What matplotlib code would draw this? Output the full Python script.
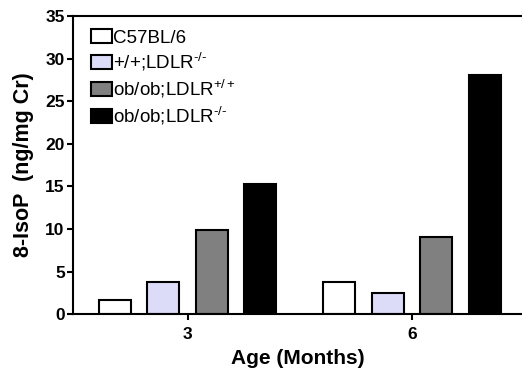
import numpy as np
import matplotlib
matplotlib.use("Agg")
import matplotlib.pyplot as plt

plt.rcParams['font.family'] = ['Liberation Sans', 'DejaVu Sans']
plt.rcParams['mathtext.fontset'] = 'custom'
plt.rcParams['mathtext.rm'] = 'Liberation Sans'
plt.rcParams['mathtext.it'] = 'Liberation Sans'

# данные
ages = ["3", "6"]
groups = ["C57BL/6", "+/+;LDLR$^{\u2010/\u2010}$", "ob/ob;LDLR$^{+/+}$",
          "ob/ob;LDLR$^{\u2010/\u2010}$"]
isop_3m = [1.65, 3.8, 9.9, 15.3]
isop_6m = [3.8, 2.5, 9.05, 28.1]
colors = ["white", "#dcdcf8", "#808080", "black"]

values = np.array([isop_3m, isop_6m])

fig = plt.figure(figsize=(5.22, 3.74), dpi=100)
ax = fig.add_axes([0.14, 0.16, 0.86, 0.797])

x = np.arange(len(ages))
width = 0.143
pitch = 0.216
for k in range(len(groups)):
    ax.bar(x + (k - 1.5) * pitch, values[:, k], width, color=colors[k],
           edgecolor="black", linewidth=1.5, label=groups[k])

ax.set_xlim(-0.51, 1.49)
ax.set_ylim(0, 35)
ax.set_yticks(np.arange(0, 36, 5))
ax.set_xticks(x, labels=ages)

for s in ["left", "bottom", "top"]:
    ax.spines[s].set_linewidth(1.5)
ax.spines["right"].set_visible(False)
ax.tick_params(axis="both", direction="out", length=4, width=1.5,
               labelsize=12.5, pad=2)
ax.tick_params(axis="x", pad=5)
for lab in ax.get_xticklabels() + ax.get_yticklabels():
    lab.set_fontweight("bold")

ax.set_ylabel("8-IsoP  (ng/mg Cr)", fontsize=15.5, fontweight="bold", labelpad=8)
ax.set_xlabel("Age (Months)", fontsize=15, fontweight="bold", labelpad=5)

leg = ax.legend(loc="upper left", bbox_to_anchor=(0.01, 1.0), frameon=False,
                fontsize=13.5, handlelength=1.15, handleheight=0.75,
                handletextpad=0.05, labelspacing=0.25, borderaxespad=0.3)

fig.savefig("out.png", dpi=100)
